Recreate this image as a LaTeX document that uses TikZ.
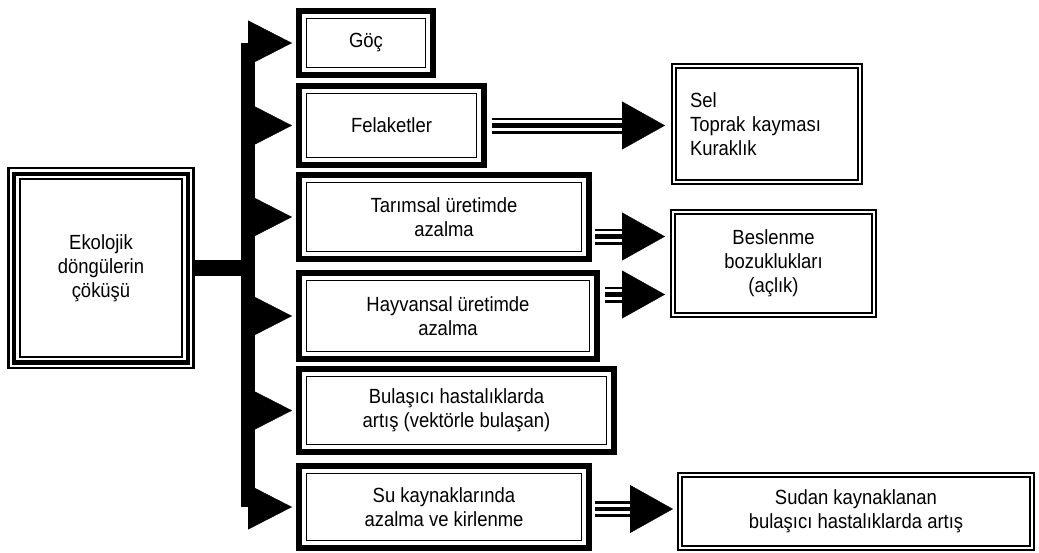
\documentclass[tikz,border=0pt]{standalone}
\usepackage{fontspec}
\setmainfont{Liberation Sans}[FakeStretch=0.9]
\usetikzlibrary{arrows.meta}

\newcommand{\boxline}[2]{\draw[line width=#2] ([shift={(#1,#1)}]path picture bounding box.south west) rectangle ([shift={(-#1,-#1)}]path picture bounding box.north east);}

\tikzset{
  box/.style={inner sep=0pt, outer sep=0pt, align=center, fill=white, font=\fontsize{20.5}{24}\selectfont},
  root/.style={box, path picture={\boxline{1.3pt}{2.5pt}\boxline{7.2pt}{4.4pt}\boxline{12.7pt}{2pt}}},
  cause/.style={box, path picture={\boxline{3pt}{6pt}\boxline{10.7pt}{1.4pt}}},
  result/.style={box, path picture={\boxline{1.1pt}{2.2pt}\boxline{5pt}{2pt}}},
  bus/.style={line width=14pt},
  bar/.style={line width=16pt},
  push/.style={-{Triangle[length=44pt,width=45pt]}, line width=0.4pt},
  shaft/.style={line width=4.6pt, preaction={draw, line width=16pt}, preaction={draw=white, line width=10.6pt}},
  head/.style={-{Triangle[length=43pt,width=48pt]}, line width=0.4pt}
}

\begin{document}
\begin{tikzpicture}[x=1pt, y=-1pt]
  \useasboundingbox (0,0) rectangle (1039,552);

  % left box and the middle column
  \node[root, minimum width=188pt, minimum height=203pt] (eko) at (101,268) {Ekolojik\\döngülerin\\çöküşü};
  \node[cause, minimum width=140pt, minimum height=70pt] (goc) at (366,43) {Göç};
  \node[cause, minimum width=191pt, minimum height=85pt] (fel) at (391.5,125.5) {Felaketler};
  \node[cause, minimum width=296pt, minimum height=90pt] (tar) at (444,217) {Tarımsal üretimde\\azalma};
  \node[cause, minimum width=304pt, minimum height=92pt] (hay) at (448,316) {Hayvansal üretimde\\azalma};
  \node[cause, minimum width=321pt, minimum height=89pt] (bul) at (456.5,410.5) {Bulaşıcı hastalıklarda\\artış (vektörle bulaşan)};
  \node[cause, minimum width=296pt, minimum height=88pt] (su) at (444,507) {Su kaynaklarında\\azalma ve kirlenme};

  % right column
  \node[result, minimum width=192pt, minimum height=122pt, text width=154pt, align=left] (sel) at (767,124) {Sel\\Toprak kayması\\Kuraklık};
  \node[result, minimum width=207pt, minimum height=109pt] (bes) at (773.5,263.5) {Beslenme\\bozuklukları\\(açlık)};
  \node[result, minimum width=358pt, minimum height=79pt] (sud) at (856,511.5) {Sudan kaynaklanan\\bulaşıcı hastalıklarda artış};

  % bus
  \coordinate (bus) at (248,0);
  \draw[bus] (bus |- goc.west) -- (bus |- su.west);
  \draw[bar] (eko.east) -- (eko.east -| bus);
  \foreach \n in {goc,fel,tar,hay,bul,su}
    \draw[push] (bus |- \n.west) -- ([xshift=-4pt]\n.west);

  % triple arrows
  \draw[shaft] ([xshift=5pt]fel.east) -- ([xshift=-49pt]sel.west |- fel.east);
  \draw[head] ([xshift=-49pt]sel.west |- fel.east) -- ([xshift=-6pt]sel.west |- fel.east);
  \draw[shaft] ([xshift=3pt,yshift=27pt]tar.east |- bes.west) -- ([xshift=-48pt,yshift=27pt]bes.west);
  \draw[head] ([xshift=-48pt,yshift=27pt]bes.west) -- ([xshift=-5pt,yshift=27pt]bes.west);
  \draw[shaft] ([xshift=5pt,yshift=-31pt]hay.east |- bes.west) -- ([xshift=-48pt,yshift=-31pt]bes.west);
  \draw[head] ([xshift=-48pt,yshift=-31pt]bes.west) -- ([xshift=-5pt,yshift=-31pt]bes.west);
  \draw[shaft] ([xshift=3pt,yshift=-2pt]su.east) -- ([xshift=-47pt,yshift=-2pt]sud.west |- su.east);
  \draw[head] ([xshift=-47pt,yshift=-2pt]sud.west |- su.east) -- ([xshift=-4pt,yshift=-2pt]sud.west |- su.east);
\end{tikzpicture}
\end{document}
